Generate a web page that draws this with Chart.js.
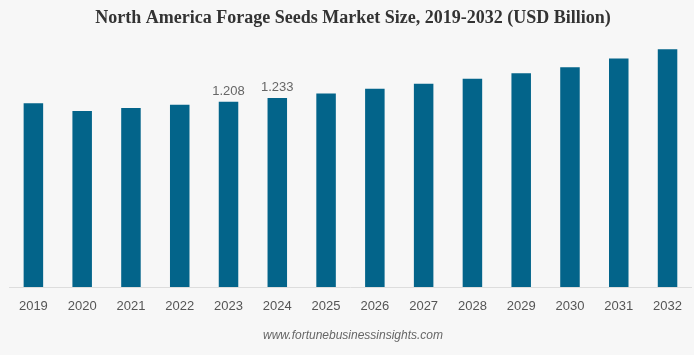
<!DOCTYPE html>
<html>
<head>
<meta charset="utf-8">
<script src="https://cdn.jsdelivr.net/npm/chart.js@4.4.1/dist/chart.umd.min.js"></script>
<style>
  html, body { margin: 0; padding: 0; background: #f7f7f7; }
  #wrap { width: 694px; height: 355px; position: relative; }
</style>
</head>
<body>
<div id="wrap"><canvas id="c"></canvas></div>
<script>
const years = ['2019','2020','2021','2022','2023','2024','2025','2026','2027','2028','2029','2030','2031','2032'];
const marketSize = [1.198, 1.148, 1.167, 1.189, 1.208, 1.233, 1.262, 1.292, 1.325, 1.357, 1.394, 1.433, 1.490, 1.550];
const shownLabels = ['', '', '', '', '1.208', '1.233', '', '', '', '', '', '', '', ''];
const titleText = 'North America Forage Seeds Market Size, 2019-2032 (USD Billion)';
const sourceText = 'www.fortunebusinessinsights.com';

const barLabels = {
  id: 'barLabels',
  afterDatasetsDraw(chart) {
    const ctx = chart.ctx;
    const meta = chart.getDatasetMeta(0);
    ctx.save();
    ctx.font = '13px "Liberation Sans", Arial, sans-serif';
    ctx.fillStyle = '#666666';
    ctx.textAlign = 'center';
    ctx.textBaseline = 'bottom';
    meta.data.forEach((bar, i) => {
      const t = shownLabels[i];
      if (t) ctx.fillText(t, bar.x, bar.y - 4);
    });
    ctx.restore();
  }
};

new Chart(document.getElementById('c'), {
  type: 'bar',
  data: {
    labels: years,
    datasets: [{
      data: marketSize,
      backgroundColor: '#03648a',
      borderWidth: 0,
      barPercentage: 0.4,
      categoryPercentage: 1.0
    }]
  },
  options: {
    responsive: true,
    maintainAspectRatio: false,
    animation: false,
    devicePixelRatio: 1,
    layout: { padding: { left: 9, right: -3, top: 0, bottom: 12 } },
    plugins: {
      legend: { display: false },
      tooltip: { enabled: false },
      title: {
        display: true,
        text: titleText,
        color: '#333333',
        font: { family: '"Liberation Serif", "Times New Roman", serif', size: 18, weight: 'bold', lineHeight: 1.2 },
        padding: { top: 8, bottom: 12 }
      },
      subtitle: {
        display: true,
        position: 'bottom',
        text: sourceText,
        color: '#666666',
        font: { family: '"Liberation Sans", Arial, sans-serif', size: 12, style: 'italic', lineHeight: 1.2 },
        padding: { top: 2, bottom: 0 }
      }
    },
    scales: {
      x: {
        grid: { display: false, drawTicks: false },
        border: { display: true, color: '#dddddd', width: 1 },
        ticks: {
          color: '#555555',
          font: { family: '"Liberation Sans", Arial, sans-serif', size: 13 },
          padding: 12,
          maxRotation: 0,
          autoSkip: false
        }
      },
      y: {
        display: false,
        min: 0,
        max: 1.6
      }
    }
  },
  plugins: [barLabels]
});
</script>
</body>
</html>
